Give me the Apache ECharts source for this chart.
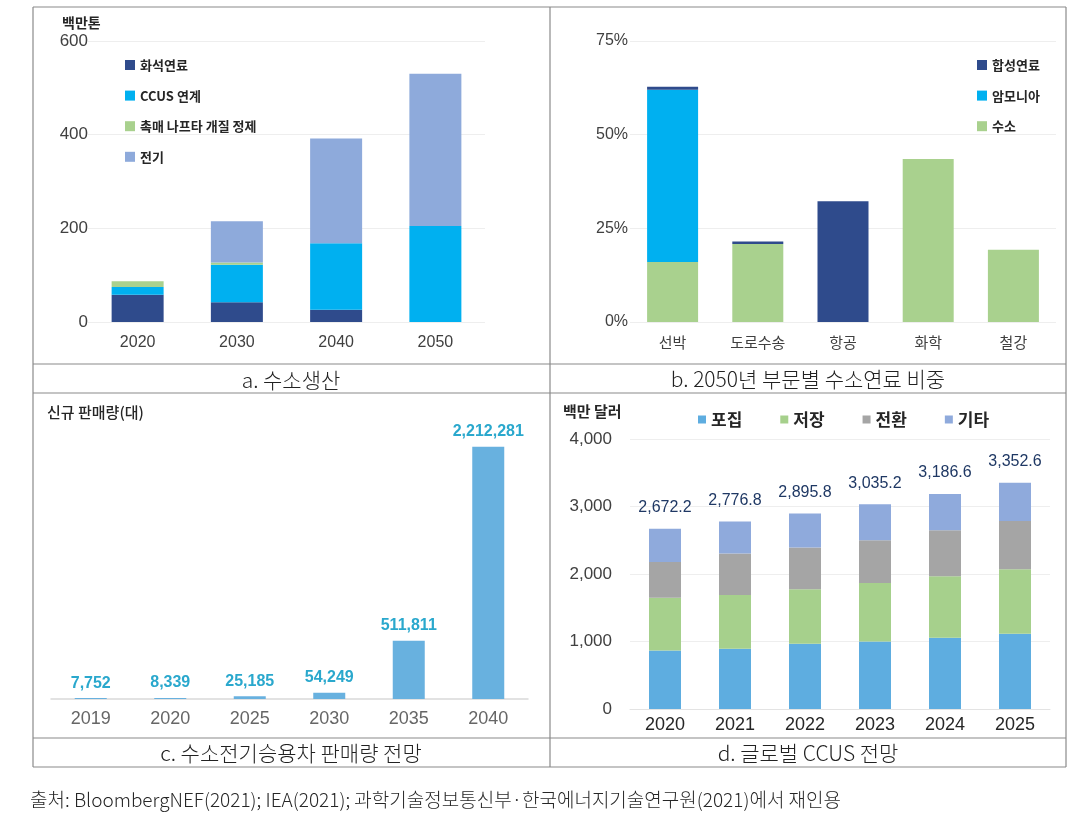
<!DOCTYPE html>
<html><head><meta charset="utf-8">
<script src="https://cdn.jsdelivr.net/npm/echarts@6/dist/echarts.min.js"></script>
<style>html,body{margin:0;padding:0;background:#fff}#c{width:1083px;height:819px}</style>
</head><body><div id="c"></div>
<script>
// ---- Panel a: 수소생산 (백만톤)
const catA = ['2020', '2030', '2040', '2050'];
const fossilA = [58, 42, 26, 0];
const ccusA = [17, 80, 142, 205];
const naphthaA = [12, 5, 0, 0];
const elecA = [0, 88, 224, 325];
const namesA = ['화석연료', 'CCUS 연계', '촉매 나프타 개질 정제', '전기'];

// ---- Panel b: 2050년 부문별 수소연료 비중 (%)
const catB = ['선박', '도로수송', '항공', '화학', '철강'];
const hydrogenB = [16, 20.8, 0, 43.5, 19.3];
const ammoniaB = [46, 0, 0, 0, 0];
const synfuelB = [0.8, 0.7, 32.2, 0, 0];
const namesB = ['합성연료', '암모니아', '수소'];

// ---- Panel c: 수소전기승용차 판매량 전망 (대)
const catC = ['2019', '2020', '2025', '2030', '2035', '2040'];
const salesC = [7752, 8339, 25185, 54249, 511811, 2212281];

// ---- Panel d: 글로벌 CCUS 전망 (백만 달러)
const catD = ['2020', '2021', '2022', '2023', '2024', '2025'];
const captureD = [868, 893, 967, 1001, 1056, 1116];
const storageD = [782, 795, 806, 865, 910, 954];
const conversionD = [528, 615, 619, 634, 682, 716];
const otherD = [494, 474, 504, 535, 539, 567];
const totalD = [2672.2, 2776.8, 2895.8, 3035.2, 3186.6, 3352.6];
const namesD = ['포집', '저장', '전환', '기타'];

const captions = ['a. 수소생산', 'b. 2050년 부문별 수소연료 비중', 'c. 수소전기승용차 판매량 전망', 'd. 글로벌 CCUS 전망'];
const unitA = '백만톤', unitC = '신규 판매량(대)', unitD = '백만 달러';
const sourceText = '출처: BloombergNEF(2021); IEA(2021); 과학기술정보통신부·한국에너지기술연구원(2021)에서 재인용';

const FONT = "'Liberation Sans', 'Noto Sans CJK KR', sans-serif";
const KFONT = "'Noto Sans CJK KR', 'Liberation Sans', sans-serif";
const NAVY = '#2f4b8c', CYAN = '#00b0f0', GREEN = '#a9d18e', PERI = '#8eaadb';

const chart = echarts.init(document.getElementById('c'), null, {renderer: 'canvas'});

function fmtInt(v) { return Number(v).toLocaleString('en-US'); }
function fmt1(v) { return Number(v).toLocaleString('en-US', {minimumFractionDigits: 1, maximumFractionDigits: 1}); }

const split = {show: true, lineStyle: {color: '#eeeeee', width: 1}};

// frame lines
const frameColor = '#8a8a8a';
const L = 33, M = 550, R = 1066;
const hl = [7, 364, 393, 738, 767];
const graphics = [];
hl.forEach(y => graphics.push({type: 'line', shape: {x1: L, y1: y, x2: R, y2: y}, style: {stroke: frameColor, lineWidth: 1.2}, silent: true}));
[L, M, R].forEach(x => graphics.push({type: 'line', shape: {x1: x, y1: 7, x2: x, y2: 767}, style: {stroke: frameColor, lineWidth: 1.2}, silent: true}));

function caption(text, cx, cy) {
  return {type: 'text', x: cx, y: cy, style: {text: text, fill: '#222', font: "300 21px " + KFONT, textAlign: 'center', textVerticalAlign: 'middle'}};
}
graphics.push(caption(captions[0], 291, 380));
graphics.push(caption(captions[1], 808, 379));
graphics.push(caption(captions[2], 291, 753));
graphics.push(caption(captions[3], 808, 753));
graphics.push({type: 'text', x: 62, y: 23, style: {text: unitA, fill: '#262626', font: "bold 14px " + KFONT, textVerticalAlign: 'middle'}});
graphics.push({type: 'text', x: 47, y: 412, style: {text: unitC, fill: '#262626', font: "500 15px " + KFONT, textVerticalAlign: 'middle'}});
graphics.push({type: 'text', x: 563, y: 411, style: {text: unitD, fill: '#262626', font: "bold 15px " + KFONT, textVerticalAlign: 'middle'}});
graphics.push({type: 'text', x: 30, y: 800, style: {text: sourceText, fill: '#262626', font: "300 19px " + KFONT, textVerticalAlign: 'middle'}});

const legendBase = {
  orient: 'vertical', itemWidth: 10, itemHeight: 10, itemGap: 14.6, icon: 'rect', selectedMode: false,
  textStyle: {fontSize: 13, fontWeight: 'bold', color: '#262626', fontFamily: KFONT, lineHeight: 16}
};

const option = {
  animation: false,
  backgroundColor: '#ffffff',
  textStyle: {fontFamily: FONT},
  graphic: graphics,
  legend: [
    Object.assign({}, legendBase, {left: 120, top: 52, data: namesA}),
    Object.assign({}, legendBase, {left: 972, top: 52, data: namesB}),
    {orient: 'horizontal', left: 693, top: 406, itemWidth: 8, itemHeight: 8, itemGap: 38, icon: 'rect', selectedMode: false,
     data: namesD, textStyle: {fontSize: 17, fontWeight: 'bold', color: '#262626', fontFamily: KFONT}}
  ],
  grid: [
    {left: 88, top: 41, width: 397, height: 281},
    {left: 630, top: 41, width: 426, height: 281},
    {left: 51, top: 414, width: 477, height: 285},
    {left: 630, top: 439, width: 420, height: 270}
  ],
  xAxis: [
    {type: 'category', gridIndex: 0, data: catA, axisTick: {show: false}, axisLine: {show: false},
     axisLabel: {fontSize: 16, color: '#404040', margin: 13}},
    {type: 'category', gridIndex: 1, data: catB, axisTick: {show: false}, axisLine: {show: false},
     axisLabel: {fontSize: 15, color: '#404040', margin: 13, fontFamily: KFONT}},
    {type: 'category', gridIndex: 2, data: catC, axisTick: {show: false}, axisLine: {show: true, lineStyle: {color: '#d9d9d9', width: 1.5}},
     axisLabel: {fontSize: 18, color: '#666666', margin: 11}},
    {type: 'category', gridIndex: 3, data: catD, axisTick: {show: false}, axisLine: {show: true, lineStyle: {color: '#e3e3e3', width: 1}},
     axisLabel: {fontSize: 18, color: '#262626', margin: 7}}
  ],
  yAxis: [
    {type: 'value', gridIndex: 0, min: 0, max: 600, interval: 200, splitLine: split,
     axisLabel: {fontSize: 17, color: '#404040', margin: 0}},
    {type: 'value', gridIndex: 1, min: 0, max: 75, interval: 25, splitLine: split,
     axisLabel: {fontSize: 16, color: '#404040', margin: 2, formatter: '{value}%'}},
    {type: 'value', gridIndex: 2, min: 0, max: 2500000, show: false, splitLine: {show: false}},
    {type: 'value', gridIndex: 3, min: 0, max: 4000, interval: 1000, splitLine: split,
     axisLabel: {fontSize: 17, color: '#404040', margin: 18, formatter: v => fmtInt(v)}}
  ],
  series: [
    {name: namesA[0], type: 'bar', stack: 'a', xAxisIndex: 0, yAxisIndex: 0, data: fossilA, barWidth: 52, itemStyle: {color: NAVY}},
    {name: namesA[1], type: 'bar', stack: 'a', xAxisIndex: 0, yAxisIndex: 0, data: ccusA, barWidth: 52, itemStyle: {color: CYAN}},
    {name: namesA[2], type: 'bar', stack: 'a', xAxisIndex: 0, yAxisIndex: 0, data: naphthaA, barWidth: 52, itemStyle: {color: GREEN}},
    {name: namesA[3], type: 'bar', stack: 'a', xAxisIndex: 0, yAxisIndex: 0, data: elecA, barWidth: 52, itemStyle: {color: PERI}},

    {name: namesB[2], type: 'bar', stack: 'b', xAxisIndex: 1, yAxisIndex: 1, data: hydrogenB, barWidth: 51, itemStyle: {color: GREEN}},
    {name: namesB[1], type: 'bar', stack: 'b', xAxisIndex: 1, yAxisIndex: 1, data: ammoniaB, barWidth: 51, itemStyle: {color: CYAN}},
    {name: namesB[0], type: 'bar', stack: 'b', xAxisIndex: 1, yAxisIndex: 1, data: synfuelB, barWidth: 51, itemStyle: {color: NAVY}},

    {name: '판매량', type: 'bar', xAxisIndex: 2, yAxisIndex: 2, data: salesC, barWidth: 32, itemStyle: {color: '#68b1df'},
     label: {show: true, position: 'top', distance: 7, fontSize: 16, fontWeight: 'bold', color: '#2aa8cd', formatter: p => fmtInt(p.value)}},

    {name: namesD[0], type: 'bar', stack: 'd', xAxisIndex: 3, yAxisIndex: 3, data: captureD, barWidth: 32, itemStyle: {color: '#5eade0'}},
    {name: namesD[1], type: 'bar', stack: 'd', xAxisIndex: 3, yAxisIndex: 3, data: storageD, barWidth: 32, itemStyle: {color: '#a6d08c'}},
    {name: namesD[2], type: 'bar', stack: 'd', xAxisIndex: 3, yAxisIndex: 3, data: conversionD, barWidth: 32, itemStyle: {color: '#a5a5a5'}},
    {name: namesD[3], type: 'bar', stack: 'd', xAxisIndex: 3, yAxisIndex: 3, data: otherD, barWidth: 32, itemStyle: {color: '#8faadc'},
     label: {show: true, position: 'top', distance: 13, fontSize: 16, color: '#1f3864', formatter: p => fmt1(totalD[p.dataIndex])}}
  ]
};
chart.setOption(option);
</script>
</body></html>
